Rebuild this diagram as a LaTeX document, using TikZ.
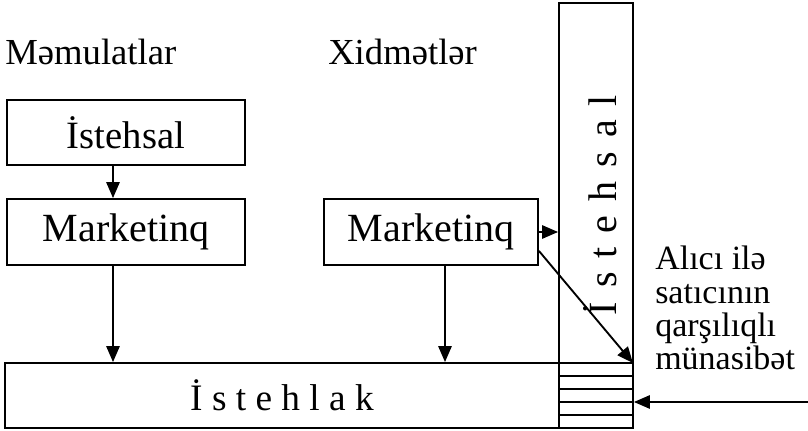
\documentclass[tikz,border=0pt]{standalone}
\usepackage{fontspec}
\setmainfont{Liberation Serif}
\usetikzlibrary{arrows.meta,calc}
% letter-spaced words
\newcommand{\lsA}{\hspace{7pt}}
\newcommand{\lsB}{\hspace{10.5pt}}
\begin{document}
\begin{tikzpicture}[x=0.75pt,y=-0.75pt,
  box/.style={draw,line width=1.4pt,inner sep=0pt},
  arr/.style={line width=1.4pt,-{Triangle[length=12pt,width=10pt]}},
  rule/.style={line width=1.4pt},
  heading/.style={font=\fontsize{27.5pt}{30pt}\selectfont,inner sep=0pt,anchor=base west}]
\useasboundingbox (0,0) rectangle (808,431);

% column headings
\node[heading] (hm) at (5,65) {Məmulatlar};
\node[heading] (hx) at (328,65) {Xidmətlər};

% goods column
\node[box,minimum width=178.5pt,minimum height=48.75pt,
      font=\fontsize{29pt}{32pt}\selectfont] (ist) at (126,132.5) {İstehsal};
\node[box,minimum width=178.5pt,minimum height=49.5pt,
      font=\fontsize{30pt}{33pt}\selectfont] (mk1) at (126,232) {Marketinq};

% services column
\node[box,minimum width=160.5pt,minimum height=49.5pt,
      font=\fontsize{30pt}{33pt}\selectfont] (mk2) at (431,232) {Marketinq};

% consumption bar
\node[box,minimum width=415.5pt,minimum height=48.75pt,
      font=\fontsize{28pt}{31pt}\selectfont] (lak) at (282,395.5)
      {İ\lsA s\lsA t\lsA e\lsA h\lsA l\lsA a\lsA k};

% vertical production bar
\node[box,minimum width=55.5pt,minimum height=318.75pt] (bar) at (596,215.5) {};
\node[rotate=90,inner sep=0pt,font=\fontsize{30pt}{33pt}\selectfont] (bartxt) at (600,205)
      {İ\lsB s\lsB t\lsB e\lsB h\lsB s\lsB a\lsB l};

% striped interaction zone at the foot of the bar
\coordinate (s0) at (0,363);
\coordinate (s1) at (0,376);
\coordinate (s2) at (0,389);
\coordinate (s3) at (0,402);
\coordinate (s4) at (0,415);
\foreach \s in {s0,s1,s2,s3,s4}
  \draw[rule] (bar.west |- \s) -- (bar.east |- \s);

% side label
\node[anchor=north west,align=left,inner sep=0pt,
      font=\fontsize{25.5pt}{25pt}\selectfont] (lbl) at (655,246)
      {Alıcı ilə\\satıcının\\qarşılıqlı\\münasibət};

% connectors
\coordinate (xa) at (113,0);
\coordinate (xb) at (445,0);
\draw[arr] (ist.south -| xa) -- (mk1.north -| xa);
\draw[arr] (mk1.south -| xa) -- (lak.north -| xa);
\draw[arr] (mk2.south -| xb) -- (lak.north -| xb);
\draw[arr] (mk2.east) -- (mk2.east -| bar.west);
\draw[arr] ($(mk2.south east)+(0,-15)$) -- ($(bar.east |- s0)+(-1,0)$);
\coordinate (src) at (808,402);
\draw[arr] (src) -- (src -| bar.east);
\end{tikzpicture}
\end{document}
